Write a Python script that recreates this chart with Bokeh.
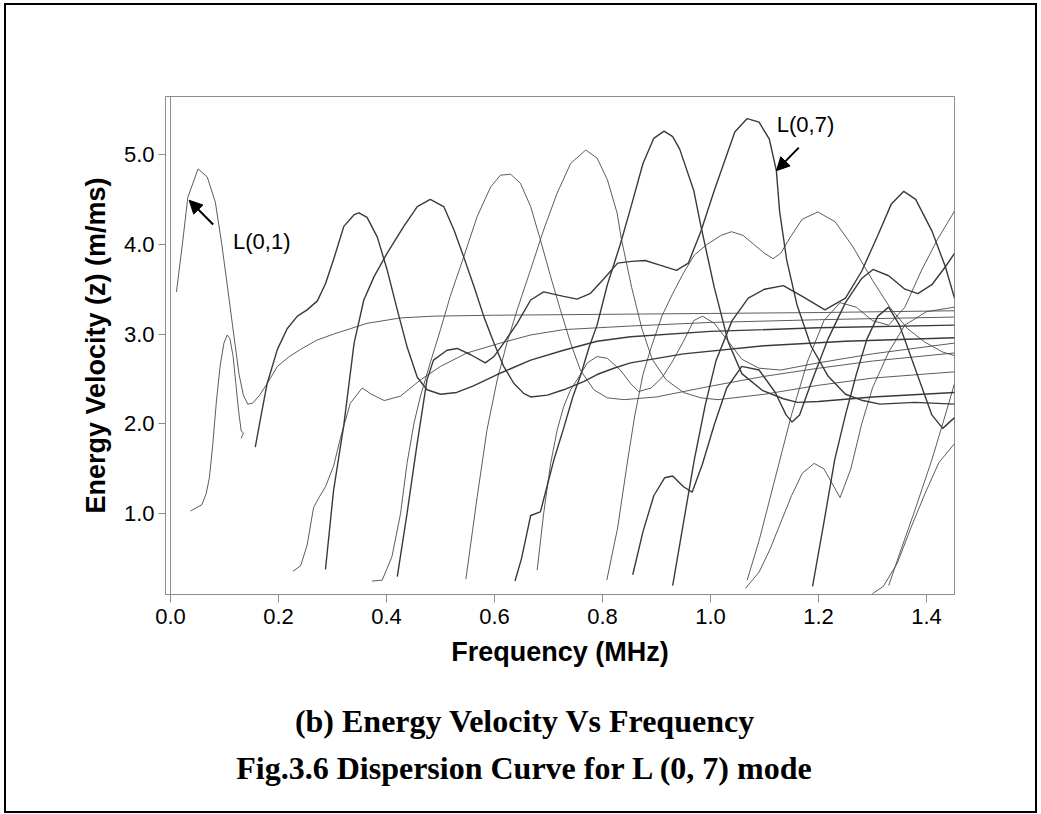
from bokeh.plotting import figure
from bokeh.layouts import column
from bokeh.models import (Range1d, FixedTicker, Label, Arrow, NormalHead, Span,
                          NumeralTickFormatter)
from bokeh.embed import file_html
from bokeh.resources import INLINE

# ---------------- data (frequency MHz, energy velocity m/ms) ----------------
x_ticks = [0.0, 0.2, 0.4, 0.6, 0.8, 1.0, 1.2, 1.4]
y_ticks = [1.0, 2.0, 3.0, 4.0, 5.0]

L01_f = [0.011, 0.022, 0.032, 0.051, 0.068, 0.083, 0.095, 0.105, 0.117, 0.127, 0.135, 0.143, 0.152,
         0.165, 0.179, 0.198, 0.220, 0.241, 0.270, 0.302, 0.364, 0.426, 0.488, 0.600, 0.800, 1.000,
         1.200, 1.452]
L01_v = [3.47, 4.00, 4.52, 4.84, 4.75, 4.47, 4.00, 3.55, 3.00, 2.55, 2.32, 2.22, 2.23,
         2.32, 2.45, 2.64, 2.75, 2.83, 2.93, 3.00, 3.12, 3.18, 3.20, 3.21, 3.22, 3.23,
         3.24, 3.26]

L02_f = [0.037, 0.058, 0.066, 0.072, 0.078, 0.085, 0.092, 0.099, 0.105, 0.110, 0.116, 0.121, 0.126,
         0.131, 0.135, 0.131]
L02_v = [1.03, 1.10, 1.22, 1.40, 1.75, 2.25, 2.65, 2.90, 2.99, 2.95, 2.75, 2.45, 2.15,
         1.92, 1.90, 1.84]

A1_f = [0.157, 0.167, 0.179, 0.198, 0.216, 0.235, 0.253, 0.272, 0.287, 0.302, 0.321, 0.340, 0.349,
        0.364, 0.383, 0.401, 0.420, 0.438, 0.457, 0.475, 0.500, 0.530, 0.560, 0.605, 0.667, 0.728,
        0.790, 0.852, 1.000, 1.200, 1.452]
A1_v = [1.74, 2.07, 2.45, 2.83, 3.06, 3.20, 3.27, 3.37, 3.56, 3.83, 4.20, 4.33, 4.35,
        4.30, 4.08, 3.72, 3.27, 2.86, 2.52, 2.38, 2.33, 2.35, 2.42, 2.55, 2.71, 2.82,
        2.92, 2.97, 3.03, 3.07, 3.10]

S1_f = [0.227, 0.241, 0.253, 0.265, 0.275, 0.287, 0.302, 0.315, 0.333, 0.355, 0.372, 0.396, 0.426,
        0.463, 0.500, 0.549, 0.611, 0.667, 0.728, 0.852, 1.000, 1.200, 1.452]
S1_v = [0.36, 0.42, 0.65, 1.07, 1.18, 1.30, 1.53, 1.85, 2.23, 2.40, 2.33, 2.26, 2.31,
        2.49, 2.64, 2.79, 2.90, 2.99, 3.05, 3.09, 3.13, 3.16, 3.19]

A2_f = [0.287, 0.302, 0.321, 0.340, 0.358, 0.377, 0.401, 0.432, 0.457, 0.481, 0.506, 0.525, 0.543,
        0.562, 0.580, 0.599, 0.617, 0.636, 0.654, 0.667, 0.698, 0.728, 0.765, 0.790, 0.821, 0.852,
        0.950, 1.100, 1.250, 1.452]
A2_v = [0.38, 1.26, 1.99, 2.90, 3.38, 3.64, 3.90, 4.20, 4.42, 4.50, 4.42, 4.16, 3.86,
        3.53, 3.20, 2.90, 2.64, 2.45, 2.34, 2.30, 2.32, 2.38, 2.47, 2.55, 2.62, 2.68,
        2.78, 2.87, 2.92, 2.96]

A3_f = [0.373, 0.392, 0.410, 0.426, 0.438, 0.451, 0.463, 0.481, 0.500, 0.518, 0.543, 0.568, 0.593,
        0.611, 0.630, 0.648, 0.667, 0.685, 0.704, 0.722, 0.741, 0.759, 0.784, 0.809, 0.840, 0.900,
        1.000, 1.100, 1.200, 1.300, 1.452]
A3_v = [0.25, 0.26, 0.52, 1.00, 1.56, 2.01, 2.31, 2.68, 3.05, 3.42, 3.86, 4.31, 4.64,
        4.77, 4.78, 4.68, 4.42, 4.05, 3.64, 3.27, 2.90, 2.60, 2.38, 2.29, 2.27, 2.30,
        2.42, 2.53, 2.62, 2.70, 2.79]

B1_f = [0.420, 0.438, 0.456, 0.475, 0.487, 0.512, 0.531, 0.556, 0.583, 0.599, 0.617, 0.642, 0.667,
        0.691, 0.728, 0.753, 0.777, 0.803, 0.828, 0.854, 0.879, 0.905, 0.937, 0.959, 0.982, 1.007,
        1.045, 1.068, 1.090, 1.109, 1.122, 1.128, 1.141, 1.160, 1.186, 1.218, 1.250, 1.282, 1.314,
        1.378, 1.452]
B1_v = [0.30, 1.00, 1.75, 2.49, 2.71, 2.82, 2.84, 2.77, 2.68, 2.75, 2.90, 3.12, 3.38,
        3.47, 3.42, 3.39, 3.45, 3.62, 3.79, 3.81, 3.82, 3.77, 3.71, 3.79, 4.14, 4.60,
        5.25, 5.40, 5.36, 5.17, 4.82, 4.37, 3.83, 3.33, 2.87, 2.53, 2.33, 2.26, 2.22,
        2.24, 2.22]

A4_f = [0.547, 0.568, 0.586, 0.605, 0.623, 0.642, 0.667, 0.691, 0.716, 0.741, 0.769, 0.790, 0.809,
        0.827, 0.835, 0.854, 0.873, 0.892, 0.918, 0.950, 0.982, 1.014, 1.100, 1.200, 1.300, 1.452]
A4_v = [0.27, 1.19, 1.93, 2.49, 2.90, 3.27, 3.72, 4.16, 4.57, 4.90, 5.05, 4.96, 4.72,
        4.35, 4.06, 3.52, 3.06, 2.72, 2.49, 2.35, 2.29, 2.27, 2.33, 2.43, 2.51, 2.58]

A5_f = [0.638, 0.650, 0.660, 0.667, 0.685, 0.695, 0.710, 0.728, 0.745, 0.760, 0.775, 0.790, 0.809,
        0.833, 0.852, 0.875, 0.895, 0.914, 0.930, 0.943, 0.969, 0.982, 1.007, 1.033, 1.058, 1.097,
        1.135, 1.161, 1.200, 1.300, 1.452]
A5_v = [0.25, 0.50, 0.78, 0.98, 1.02, 1.25, 1.60, 1.95, 2.30, 2.55, 2.85, 3.10, 3.55,
        4.00, 4.40, 4.90, 5.18, 5.26, 5.20, 5.06, 4.60, 4.21, 3.52, 2.91, 2.56, 2.37,
        2.28, 2.24, 2.25, 2.30, 2.35]

C8_f = [0.679, 0.691, 0.704, 0.716, 0.728, 0.741, 0.757, 0.772, 0.790, 0.809, 0.833, 0.852, 0.867,
        0.890, 0.911, 0.930, 0.950, 0.969, 0.985, 1.007, 1.033, 1.058, 1.090, 1.130, 1.200, 1.300,
        1.452]
C8_v = [0.37, 1.00, 1.56, 1.93, 2.19, 2.38, 2.53, 2.68, 2.75, 2.73, 2.60, 2.45, 2.36,
        2.40, 2.52, 2.70, 2.92, 3.15, 3.20, 3.12, 2.92, 2.72, 2.62, 2.60, 2.68, 2.78,
        2.90]

D1_f = [0.808, 0.828, 0.847, 0.860, 0.875, 0.890, 0.910, 0.930, 0.950, 0.970, 0.994, 1.020, 1.039,
        1.060, 1.080, 1.100, 1.116, 1.130, 1.150, 1.170, 1.199, 1.231, 1.263, 1.300, 1.333, 1.365,
        1.397, 1.430, 1.452]
D1_v = [0.26, 0.84, 1.61, 2.10, 2.55, 2.85, 3.20, 3.45, 3.68, 3.88, 4.00, 4.10, 4.14,
        4.10, 4.00, 3.90, 3.84, 3.90, 4.10, 4.28, 4.36, 4.25, 3.98, 3.60, 3.29, 3.06,
        2.91, 2.80, 2.76]

E1_f = [0.856, 0.875, 0.895, 0.915, 0.930, 0.950, 0.966, 0.985, 1.007, 1.030, 1.058, 1.090, 1.120,
        1.140, 1.151, 1.165, 1.186, 1.218, 1.250, 1.280, 1.301, 1.330, 1.360, 1.384, 1.410, 1.435,
        1.452]
E1_v = [0.32, 0.80, 1.20, 1.40, 1.42, 1.30, 1.24, 1.55, 1.99, 2.40, 2.64, 2.60, 2.35,
        2.10, 2.02, 2.10, 2.45, 2.95, 3.35, 3.62, 3.72, 3.65, 3.50, 3.45, 3.55, 3.75,
        3.90]

E2_f = [0.930, 0.950, 0.970, 0.990, 1.010, 1.040, 1.070, 1.100, 1.135, 1.170, 1.212, 1.250, 1.280,
        1.310, 1.335, 1.358, 1.380, 1.410, 1.435, 1.452]
E2_v = [0.20, 0.90, 1.60, 2.20, 2.70, 3.15, 3.40, 3.50, 3.54, 3.42, 3.27, 3.40, 3.70,
        4.10, 4.45, 4.59, 4.50, 4.15, 3.75, 3.40]

G1_f = [1.065, 1.090, 1.110, 1.130, 1.150, 1.170, 1.192, 1.210, 1.240, 1.260, 1.280, 1.300, 1.330,
        1.360, 1.400, 1.452]
G1_v = [0.17, 0.35, 0.60, 0.90, 1.20, 1.45, 1.56, 1.50, 1.18, 1.50, 2.00, 2.40, 2.80,
        3.10, 3.25, 3.30]

G2_f = [1.068, 1.090, 1.120, 1.150, 1.180, 1.210, 1.240, 1.270, 1.300, 1.330, 1.360, 1.390, 1.420,
        1.452]
G2_v = [0.26, 0.70, 1.40, 2.10, 2.70, 3.15, 3.35, 3.30, 3.15, 3.10, 3.30, 3.70, 4.05,
        4.37]

H1_f = [1.189, 1.210, 1.230, 1.250, 1.270, 1.290, 1.310, 1.330, 1.350, 1.380, 1.410, 1.430, 1.452]
H1_v = [0.19, 0.90, 1.60, 2.10, 2.55, 2.95, 3.20, 3.30, 3.10, 2.60, 2.10, 1.95, 2.07]

J1_f = [1.300, 1.320, 1.346, 1.371, 1.397, 1.423, 1.452]
J1_v = [0.11, 0.19, 0.45, 0.84, 1.22, 1.57, 1.78]

J2_f = [1.330, 1.350, 1.378, 1.410, 1.430, 1.452]
J2_v = [0.20, 0.55, 1.03, 1.60, 2.00, 2.45]

single_curves = [(L01_f, L01_v), (L02_f, L02_v), (S1_f, S1_v), (A3_f, A3_v), (A4_f, A4_v),
                 (C8_f, C8_v), (D1_f, D1_v), (G1_f, G1_v), (G2_f, G2_v), (J1_f, J1_v),
                 (J2_f, J2_v)]
double_curves = [(A1_f, A1_v), (A2_f, A2_v), (B1_f, B1_v), (A5_f, A5_v), (E1_f, E1_v),
                 (E2_f, E2_v), (H1_f, H1_v)]

caption_1 = "(b) Energy Velocity Vs Frequency"
caption_2 = "Fig.3.6 Dispersion Curve for L (0, 7) mode"

# ---------------- main figure ----------------
FRAME = "#8c8c8c"
p = figure(width=1029, height=685, output_backend="svg", toolbar_location=None,
           x_range=Range1d(-0.00926, 1.4519), y_range=Range1d(0.1002, 5.6459),
           min_border_left=159, min_border_right=81, min_border_top=91, min_border_bottom=96)
p.background_fill_color = "white"
p.border_fill_color = "white"
p.outline_line_color = FRAME
p.outline_line_width = 1
p.xgrid.visible = False
p.ygrid.visible = False

for f, v in single_curves:
    p.line(f, v, line_color="#4a4a4a", line_width=0.9)
for f, v in double_curves:
    p.line(f, v, line_color="#3a3a3a", line_width=1.4)

p.add_layout(Span(location=0, dimension="height", line_color=FRAME, line_width=1))

p.xaxis.ticker = FixedTicker(ticks=x_ticks)
p.yaxis.ticker = FixedTicker(ticks=y_ticks)
p.xaxis.formatter = NumeralTickFormatter(format="0.0")
p.yaxis.formatter = NumeralTickFormatter(format="0.0")
for ax in (p.xaxis, p.yaxis):
    ax.axis_line_color = FRAME
    ax.major_tick_line_color = FRAME
    ax.minor_tick_line_color = None
    ax.major_tick_in = 0
    ax.major_label_text_font = "Liberation Sans"
    ax.major_label_text_font_size = "22px"
    ax.major_label_text_color = "black"
    ax.axis_label_text_font = "Liberation Sans"
    ax.axis_label_text_font_style = "bold"
    ax.axis_label_text_font_size = "27px"
    ax.axis_label_text_color = "black"
p.xaxis.major_tick_out = 8
p.yaxis.major_tick_out = 7
p.xaxis.major_label_standoff = 6
p.yaxis.major_label_standoff = 4
p.xaxis.axis_label = "Frequency (MHz)"
p.yaxis.axis_label = "Energy Velocity (z) (m/ms)"
p.xaxis.axis_label_standoff = 10
p.yaxis.axis_label_standoff = 10

p.add_layout(Arrow(end=NormalHead(size=13, fill_color="black", line_color="black"),
                   x_start=0.079, y_start=4.22, x_end=0.0346, y_end=4.49,
                   line_color="black", line_width=2))
p.add_layout(Arrow(end=NormalHead(size=13, fill_color="black", line_color="black"),
                   x_start=1.1635, y_start=5.076, x_end=1.122, y_end=4.82,
                   line_color="black", line_width=2))
p.add_layout(Label(x=0.169, y=4.03, text="L(0,1)", text_align="center", text_baseline="middle",
                   text_font="Liberation Sans", text_font_size="22px", text_color="black"))
p.add_layout(Label(x=1.176, y=5.333, text="L(0,7)", text_align="center", text_baseline="middle",
                   text_font="Liberation Sans", text_font_size="22px", text_color="black"))

# ---------------- caption figure ----------------
cap = figure(width=1029, height=121, output_backend="svg", toolbar_location=None,
             x_range=Range1d(0, 1029), y_range=Range1d(121, 0),
             x_axis_type=None, y_axis_type=None, min_border=0)
cap.outline_line_color = None
cap.xgrid.visible = False
cap.ygrid.visible = False
cap.background_fill_color = "white"
cap.border_fill_color = "white"
cap.add_layout(Label(x=469, y=30, text=caption_1, text_align="center", text_baseline="alphabetic",
                     text_font="Liberation Serif", text_font_style="bold", text_font_size="32px",
                     text_color="black"))
cap.add_layout(Label(x=469, y=77.3, text=caption_2, text_align="center", text_baseline="alphabetic",
                     text_font="Liberation Serif", text_font_style="bold", text_font_size="32px",
                     text_color="black"))

page = column(p, cap, spacing=0,
              styles={"border": "2px solid black", "margin": "3px 0px 0px 4px",
                      "box-sizing": "content-box", "background-color": "white"})

open("out.html", "w").write(file_html(page, INLINE))
